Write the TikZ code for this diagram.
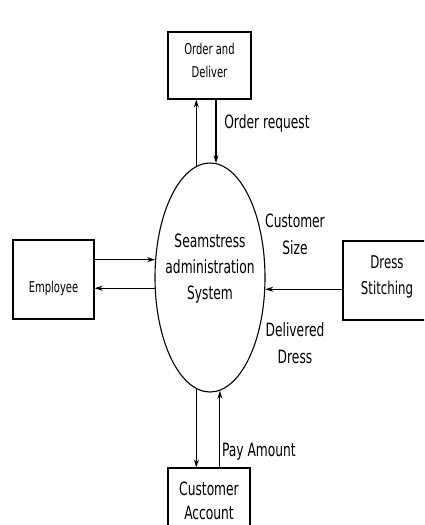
\documentclass[tikz,border=0pt]{standalone}
\usepackage{fontspec}
\setmainfont{DejaVu Sans Condensed}[FakeStretch=0.745]
\usepackage{tikz}
\usetikzlibrary{arrows.meta, positioning, calc, shapes.geometric}

\begin{document}
\begin{tikzpicture}[x=1pt,y=-1pt,>={Stealth[length=8pt,width=5pt]},
			line width=1.1pt,
			entity/.style={rectangle,draw,inner sep=0pt},
			process/.style={ellipse,draw,inner sep=0pt},
			small text/.style={font=\fontsize{14.9}{23}\selectfont,align=center},
			big text/.style={font=\fontsize{18.3}{26}\selectfont,align=center},
			flow/.style={font=\fontsize{18.3}{27}\selectfont,align=center}]
			
			\useasboundingbox (0,0) rectangle (424,525);
			\clip (0,0) rectangle (424,525);
			
			\node[process,minimum width=110pt,minimum height=229pt] (sys) at (210,277.5) {};
			\node[entity,minimum width=83pt,minimum height=67pt] (order) at (209.5,65.5) {};
			\node[entity,minimum width=81pt,minimum height=79pt] (emp) at (53.5,279.5) {};
			\node[entity,minimum width=88pt,minimum height=79pt] (stitch) at (387,280.5) {};
			\node[entity,minimum width=82pt,minimum height=66pt] (acct) at (209,501) {};
			
			\node[big text] (sys text) at ([yshift=9pt]sys.center) {Seamstress\\administration\\System};
			\node[small text] (order text) at ([yshift=5pt]order.center) {Order and\\Deliver};
			\node[small text] (emp text) at ([yshift=-9pt]emp.center) {Employee};
			\node[big text,font=\fontsize{17.6}{26}\selectfont] (stitch text) at ([yshift=4pt]stitch.center) {Dress\\Stitching};
			\node[big text,font=\fontsize{18.3}{24}\selectfont] (acct text) at (acct.center) {Customer\\Account};
			
			% data flows
			\draw[->] (sys.97) -- (sys.97 |- order.south);
			\draw[->] (sys.87 |- order.south) -- (sys.87);
			\draw[->] (emp.east |- sys.162) -- (sys.162);
			\draw[->] (sys.191) -- (emp.east |- sys.191);
			\draw[->] (stitch.west |- sys.-12) -- (sys.-12);
			\draw[->] (sys.-97) -- (sys.-97 |- acct.north);
			\draw[->] (sys.-85 |- acct.north) -- (sys.-85);
			
			\node[flow] (req) at (267,123) {Order request};
			\node[flow] (size) at (295,234) {Customer\\Size};
			\node[flow] (deliv) at (295,343) {Delivered\\Dress};
			\node[flow] (pay) at (259,452) {Pay Amount};
		\end{tikzpicture}
\end{document}
